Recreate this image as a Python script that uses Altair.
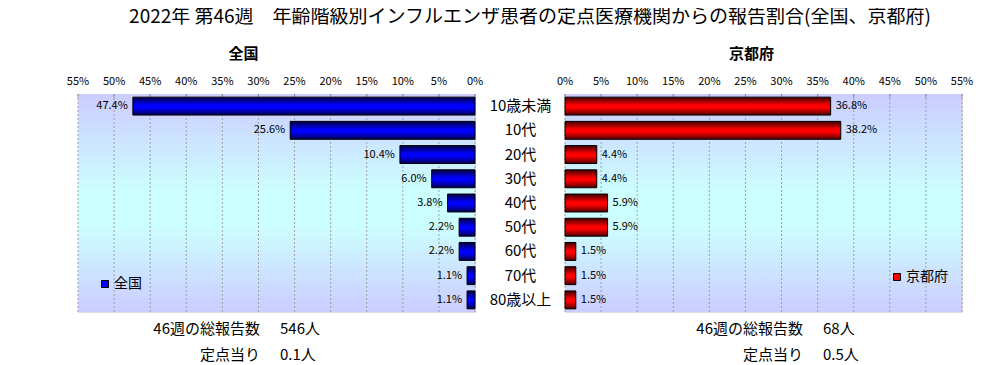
import altair as alt
import pandas as pd

categories = ["10歳未満", "10代", "20代", "30代", "40代", "50代", "60代", "70代", "80歳以上"]
zenkoku = [47.4, 25.6, 10.4, 6.0, 3.8, 2.2, 2.2, 1.1, 1.1]
kyoto = [36.8, 38.2, 4.4, 4.4, 5.9, 5.9, 1.5, 1.5, 1.5]
tick_values = [0, 5, 10, 15, 20, 25, 30, 35, 40, 45, 50, 55]
main_title = "2022年 第46週　年齢階級別インフルエンザ患者の定点医療機関からの報告割合(全国、京都府)"
note_labels = ["46週の総報告数", "定点当り"]
zenkoku_notes = ["546人", "0.1人"]
kyoto_notes = ["68人", "0.5人"]

FONT = "Noto Sans CJK JP"
W, H = 397, 218


def grad(c_edge1, c_mid, c_edge2):
    return alt.LinearGradient(
        gradient="linear",
        stops=[
            alt.GradientStop(color=c_edge1, offset=0),
            alt.GradientStop(color=c_mid, offset=0.45),
            alt.GradientStop(color=c_mid, offset=0.6),
            alt.GradientStop(color=c_edge2, offset=1),
        ],
        x1=0, x2=0, y1=0, y2=1,
    )


bg_grad = grad("#ccccff", "#ccffff", "#ccccff")
blue_grad = grad("#000040", "#0000ff", "#000050")
red_grad = grad("#400000", "#ff0000", "#500000")


def panel(values, name, bar_grad, legend_color, reverse, note_vals, note_x,
          legend_xy, title_dx, show_y):
    df = pd.DataFrame({"cat": categories, "value": values})
    tdf = pd.DataFrame({"v": tick_values})
    xscale = alt.Scale(domain=[0, 55], reverse=reverse, nice=False, zero=True)
    yscale = alt.Scale(domain=categories, paddingInner=0.26, paddingOuter=0.13)
    if show_y:
        yaxis = alt.Axis(orient="left", title=None, domain=False, ticks=False, tickSize=0,
                         labelAlign="center", labelPadding=45, labelFontSize=15,
                         labelFont=FONT, labelColor="black", labelBaseline="middle")
    else:
        yaxis = None

    bg = alt.Chart(pd.DataFrame({"a": [0]})).mark_rect(fill=bg_grad).encode(
        x=alt.value(0), x2=alt.value(W), y=alt.value(0), y2=alt.value(H)
    )
    grid = alt.Chart(tdf).mark_rule(stroke="#a0a0a0", strokeDash=[2, 2],
                                    strokeWidth=1).encode(
        x=alt.X("v:Q", scale=xscale, axis=None),
    )
    ticks = alt.Chart(tdf).mark_tick(color="#808080", size=4, thickness=1,
                                     orient="vertical").encode(
        x=alt.X("v:Q", scale=xscale, axis=None), y=alt.value(2)
    )
    tick_labels = alt.Chart(tdf).transform_calculate(
        lab="datum.v + '%'"
    ).mark_text(align="center", baseline="middle", fontSize=11, font=FONT,
                color="black").encode(
        x=alt.X("v:Q", scale=xscale, axis=None), y=alt.value(-12), text="lab:N"
    )
    bars = alt.Chart(df).mark_bar(fill=bar_grad, stroke="black", strokeWidth=1).encode(
        x=alt.X("value:Q", scale=xscale, axis=None),
        y=alt.Y("cat:N", scale=yscale, axis=yaxis, sort=categories),
    )
    labels = alt.Chart(df).transform_calculate(
        lab="format(datum.value, '.1f') + '%'"
    ).mark_text(
        align="right" if reverse else "left", dx=-5 if reverse else 5,
        fontSize=11, font=FONT, color="black", baseline="middle"
    ).encode(
        x=alt.X("value:Q", scale=xscale, axis=None),
        y=alt.Y("cat:N", scale=yscale, sort=categories),
        text="lab:N",
    )
    legend_layer = alt.Chart(pd.DataFrame({"s": [name]})).mark_square(opacity=0).encode(
        x=alt.value(0), y=alt.value(0),
        color=alt.Color("s:N", scale=alt.Scale(domain=[name], range=[legend_color]),
                        legend=alt.Legend(orient="none", legendX=legend_xy[0],
                                          legendY=legend_xy[1], title=None,
                                          symbolType="square", symbolSize=49,
                                          symbolStrokeColor="black", symbolStrokeWidth=1,
                                          symbolOpacity=1, labelFont=FONT,
                                          labelFontSize=14, labelColor="black",
                                          labelOffset=2, padding=0)),
    )
    notes = []
    ys = [235, 261]
    for i in range(2):
        notes.append(alt.Chart(pd.DataFrame({"t": [note_labels[i]]})).mark_text(
            align="right", baseline="middle", fontSize=15, font=FONT, color="black"
        ).encode(x=alt.value(note_x), y=alt.value(ys[i]), text="t:N"))
        notes.append(alt.Chart(pd.DataFrame({"t": [note_vals[i]]})).mark_text(
            align="left", baseline="middle", fontSize=15, font=FONT, color="black"
        ).encode(x=alt.value(note_x + 20), y=alt.value(ys[i]), text="t:N"))

    return alt.layer(bg, grid, ticks, tick_labels, bars, labels, legend_layer,
                     *notes).properties(
        width=W, height=H,
        title=alt.Title(name, fontSize=15, fontWeight="bold", font=FONT, color="black",
                        anchor="middle", dx=title_dx, offset=14),
    )


left = panel(zenkoku, "全国", blue_grad, "#0000ff", True, zenkoku_notes, 182,
             (20, 183), -33, False)
right = panel(kyoto, "京都府", red_grad, "#ff0000", False, kyoto_notes, 238,
              (325, 176), -12, True)

chart = alt.hconcat(left, right, spacing=90, bounds="flush").resolve_scale(
    color="independent", x="independent"
).resolve_legend(color="independent").properties(
    title=alt.Title(main_title, fontSize=19, fontWeight="normal", font=FONT,
                    color="black", anchor="middle", dx=10, offset=20),
    padding={"left": 58, "top": -1, "right": 0, "bottom": 0},
).configure_view(stroke="#808080", strokeWidth=1).configure(background="white")

chart.save("out.html", embed_options={"renderer": "svg", "actions": False})
